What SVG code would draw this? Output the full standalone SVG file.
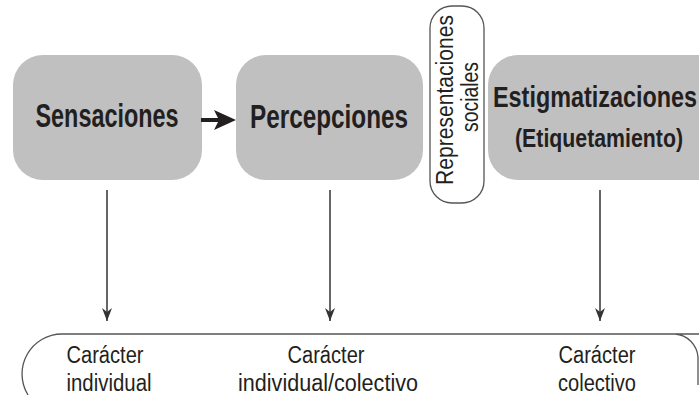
<svg xmlns="http://www.w3.org/2000/svg" width="699" height="395" viewBox="0 0 699 395">
<defs>
<style>
.box{fill:#c0c0c0;stroke:none}
.bt{font-family:"Liberation Sans",Arial,sans-serif;font-weight:bold;fill:#231f20;text-anchor:middle}
.rt{font-family:"Liberation Sans",Arial,sans-serif;fill:#231f20;text-anchor:middle}
.ln{stroke:#333;stroke-width:1.5;fill:none}
.ol{stroke:#555;stroke-width:1.3;fill:none}
</style>
<marker id="ah" markerWidth="14" markerHeight="10" refX="13" refY="5" orient="auto" markerUnits="userSpaceOnUse" viewBox="0 0 14 10">
<path d="M0,0 L13,5 L0,10 L4,5 Z" fill="#333"/>
</marker>
</defs>
<rect width="699" height="395" fill="#fff"/>
<g id="sensaciones">
<rect class="box" x="13" y="55" width="189" height="125" rx="30"/>
<text class="bt" x="107" y="127" font-size="33" textLength="143" lengthAdjust="spacingAndGlyphs">Sensaciones</text>
</g>
<g id="percepciones">
<rect class="box" x="236" y="55" width="187" height="125" rx="30"/>
<text class="bt" x="329" y="128" font-size="33" textLength="158" lengthAdjust="spacingAndGlyphs">Percepciones</text>
</g>
<g id="representaciones">
<rect class="ol" x="430" y="6" width="54" height="197" rx="22"/>
<text class="rt" transform="translate(453,100) rotate(-90)" font-size="23" textLength="170" lengthAdjust="spacingAndGlyphs">Representaciones</text>
<text class="rt" transform="translate(478,97) rotate(-90)" font-size="23" textLength="70" lengthAdjust="spacingAndGlyphs">sociales</text>
</g>
<g id="estigmatizaciones">
<path class="box" d="M699,55 L518,55 A30,30 0 0 0 488,85 L488,150 A30,30 0 0 0 518,180 L699,180 Z"/>
<text class="bt" x="595" y="107" font-size="29" textLength="204" lengthAdjust="spacingAndGlyphs">Estigmatizaciones</text>
<text class="bt" x="599" y="147" font-size="25" textLength="168" lengthAdjust="spacingAndGlyphs">(Etiquetamiento)</text>
</g>
<g id="caracter">
<path class="ol" d="M700,334 L62,334 A40,40 0 0 0 28,395 M675,334 A25,25 0 0 1 698,357 L698,385"/>
<text class="rt" x="105" y="363" font-size="23" textLength="77" lengthAdjust="spacingAndGlyphs">Carácter</text>
<text class="rt" x="109" y="391" font-size="23" textLength="85" lengthAdjust="spacingAndGlyphs">individual</text>
<text class="rt" x="326" y="363" font-size="23" textLength="77" lengthAdjust="spacingAndGlyphs">Carácter</text>
<text class="rt" x="328" y="391" font-size="23" textLength="180" lengthAdjust="spacingAndGlyphs">individual/colectivo</text>
<text class="rt" x="597" y="363" font-size="23" textLength="77" lengthAdjust="spacingAndGlyphs">Carácter</text>
<text class="rt" x="597" y="391" font-size="23" textLength="78" lengthAdjust="spacingAndGlyphs">colectivo</text>
</g>
<g id="connectors">
<line x1="201" y1="120" x2="220" y2="120" stroke="#231f20" stroke-width="4"/>
<path d="M236,120 L214,110 L219,120 L214,130 Z" fill="#231f20"/>
<line class="ln" x1="107" y1="190" x2="107" y2="321" marker-end="url(#ah)"/>
<line class="ln" x1="330" y1="190" x2="330" y2="321" marker-end="url(#ah)"/>
<line class="ln" x1="600" y1="190" x2="600" y2="321" marker-end="url(#ah)"/>
</g>
</svg>
